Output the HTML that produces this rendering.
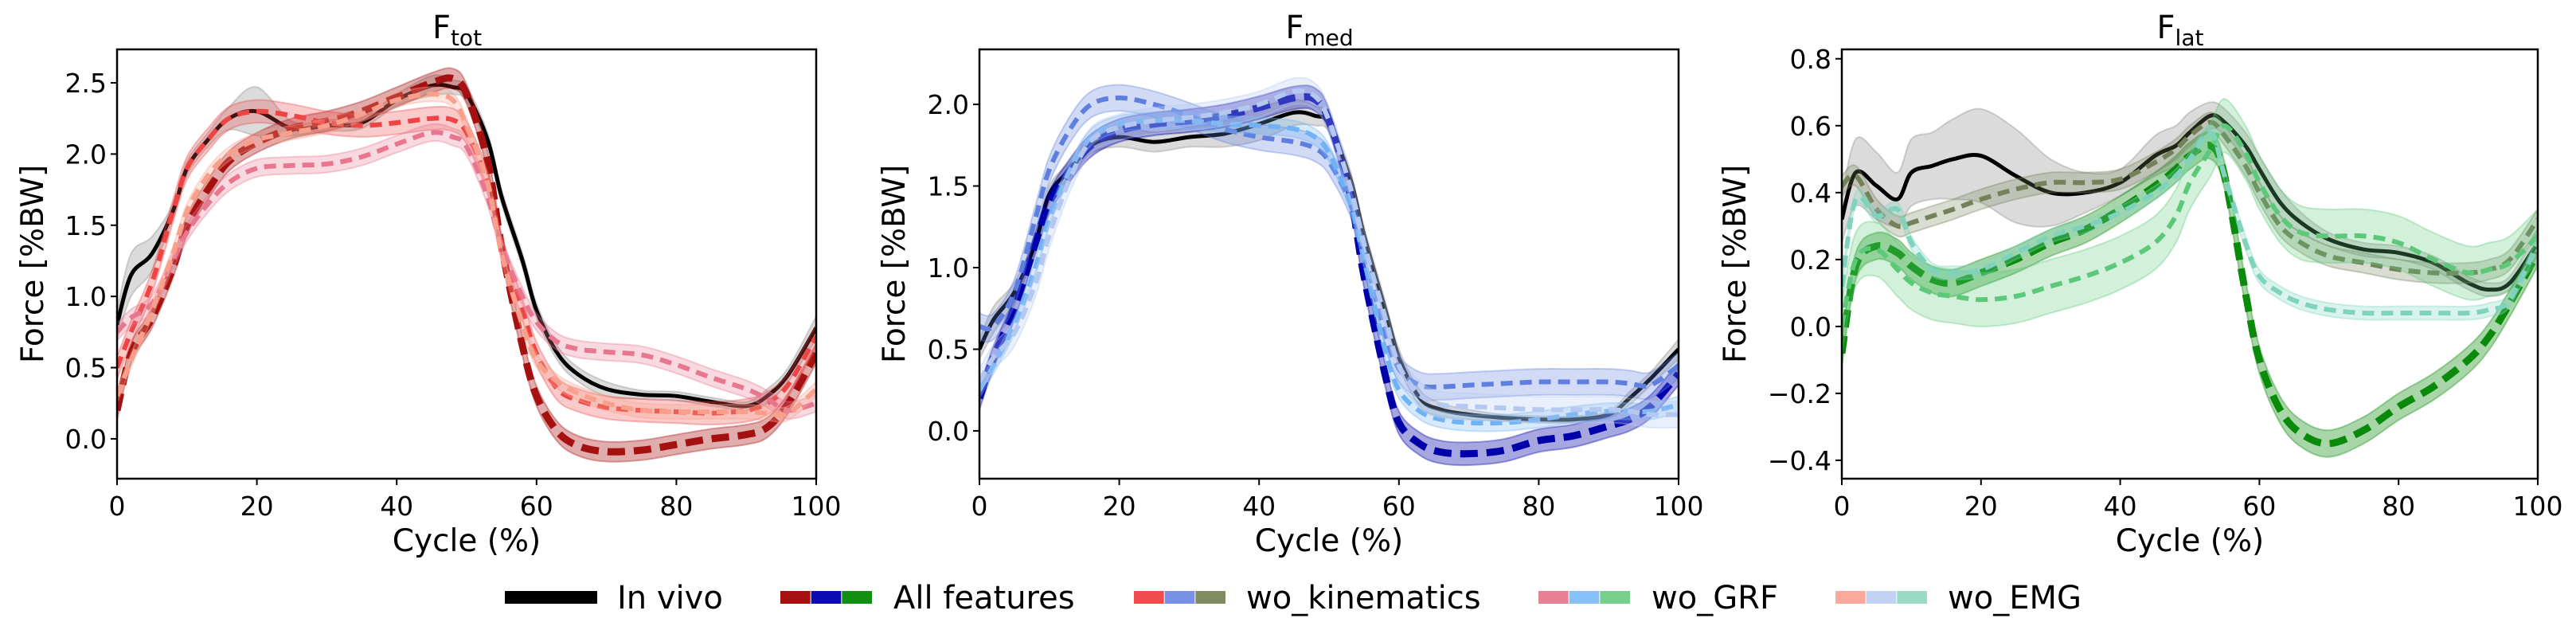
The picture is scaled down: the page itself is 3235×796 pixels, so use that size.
<!DOCTYPE html>
<html><head><meta charset="utf-8"><style>
html,body{margin:0;padding:0;background:#fff;}
svg text{font-family:"DejaVu Sans","Liberation Sans",sans-serif;fill:#000;}
</style></head><body>
<svg id="chart" xmlns="http://www.w3.org/2000/svg" width="3235" height="791" viewBox="0 0 3235 791"></svg>
<script>
const xs = [0,2,5,8,10,13,16,20,25,30,35,40,45,48,50,53,55,58,60,63,66,70,75,80,85,90,93,96,100];
const xTicks = [0,20,40,60,80,100];
const seriesNames = ["In vivo","All features","wo_kinematics","wo_GRF","wo_EMG"];
// Ftot
const totVivo = [0.8,1.15,1.3,1.6,1.9,2.1,2.25,2.3,2.18,2.2,2.22,2.38,2.48,2.47,2.42,2.1,1.7,1.25,0.9,0.6,0.45,0.35,0.31,0.3,0.26,0.23,0.3,0.45,0.78];
const totVivoBand = [0.1,0.15,0.12,0.05,0.05,0.05,0.08,0.17,0.05,0.04,0.04,0.04,0.07,0.05,0.05,0.05,0.05,0.05,0.05,0.05,0.05,0.05,0.03,0.03,0.03,0.03,0.05,0.05,0.08];
const totAll = [0.2,0.6,0.85,1.2,1.5,1.75,1.95,2.08,2.18,2.23,2.3,2.4,2.5,2.53,2.42,1.95,1.35,0.65,0.3,0.05,-0.05,-0.09,-0.08,-0.04,0,0.03,0.08,0.25,0.6];
const totKin = [0.5,0.75,1.1,1.6,1.9,2.1,2.25,2.3,2.27,2.22,2.2,2.22,2.25,2.24,2.15,1.8,1.35,0.9,0.6,0.35,0.27,0.22,0.2,0.19,0.18,0.2,0.25,0.38,0.72];
const totGrf = [0.75,0.85,0.95,1.25,1.45,1.65,1.8,1.9,1.92,1.93,1.98,2.07,2.15,2.12,2.05,1.7,1.35,1.0,0.82,0.68,0.63,0.61,0.59,0.52,0.43,0.35,0.28,0.2,0.25];
const totEmg = [0.3,0.55,0.9,1.3,1.6,1.85,2.0,2.1,2.15,2.2,2.28,2.38,2.42,2.38,2.2,1.8,1.3,0.8,0.55,0.4,0.32,0.25,0.2,0.19,0.19,0.19,0.18,0.18,0.35];
const totBands = [0.07,0.08,0.06,0.05];
const totTicks = [0,0.5,1,1.5,2,2.5];
// Fmed
const medVivo = [0.5,0.68,0.85,1.15,1.45,1.6,1.75,1.8,1.77,1.8,1.82,1.88,1.95,1.93,1.88,1.55,1.2,0.75,0.45,0.2,0.13,0.1,0.08,0.07,0.07,0.1,0.2,0.32,0.5];
const medVivoBand = [0.06,0.08,0.06,0.05,0.05,0.05,0.05,0.06,0.06,0.06,0.08,0.1,0.08,0.06,0.05,0.05,0.05,0.05,0.05,0.05,0.04,0.03,0.02,0.02,0.02,0.02,0.04,0.04,0.06];
const medAll = [0.2,0.45,0.75,1.15,1.4,1.6,1.75,1.84,1.88,1.9,1.93,1.98,2.04,2.03,1.9,1.45,0.95,0.35,0.05,-0.08,-0.13,-0.14,-0.12,-0.06,-0.03,0.03,0.07,0.15,0.35];
const medKin = [0.64,0.64,0.85,1.3,1.6,1.85,2.0,2.04,2.0,1.93,1.85,1.8,1.77,1.73,1.65,1.4,1.1,0.6,0.38,0.28,0.27,0.28,0.29,0.3,0.3,0.3,0.29,0.28,0.4];
const medGrf = [0.25,0.4,0.65,1.0,1.3,1.6,1.8,1.88,1.9,1.9,1.88,1.87,1.85,1.8,1.7,1.4,1.05,0.5,0.25,0.12,0.07,0.05,0.05,0.07,0.1,0.12,0.12,0.12,0.16];
const medEmg = [0.3,0.45,0.6,0.9,1.2,1.55,1.78,1.86,1.9,1.92,1.95,2.0,2.08,2.05,1.9,1.5,1.15,0.7,0.4,0.22,0.16,0.15,0.14,0.13,0.13,0.13,0.12,0.1,0.1];
const medBands = [0.07,0.08,0.05,0.08];
const medTicks = [0,0.5,1,1.5,2];
// Flat
const latVivo = [0.32,0.46,0.42,0.38,0.46,0.48,0.5,0.51,0.45,0.4,0.4,0.43,0.51,0.54,0.58,0.63,0.61,0.54,0.47,0.37,0.31,0.26,0.23,0.22,0.19,0.13,0.11,0.13,0.25];
const latVivoBand = [0.07,0.1,0.1,0.08,0.1,0.1,0.12,0.14,0.14,0.1,0.06,0.04,0.06,0.06,0.06,0.04,0.04,0.04,0.04,0.04,0.03,0.02,0.02,0.02,0.02,0.02,0.02,0.02,0.04];
const latAll = [-0.08,0.18,0.24,0.22,0.18,0.14,0.13,0.16,0.2,0.25,0.29,0.35,0.42,0.47,0.51,0.54,0.45,0.1,-0.1,-0.25,-0.32,-0.35,-0.31,-0.24,-0.18,-0.1,-0.03,0.07,0.22];
const latKin = [0.42,0.45,0.35,0.3,0.31,0.33,0.35,0.38,0.41,0.43,0.43,0.44,0.49,0.53,0.57,0.61,0.57,0.48,0.4,0.3,0.25,0.21,0.19,0.17,0.16,0.16,0.17,0.2,0.32];
const latGrf = [0.0,0.2,0.23,0.17,0.13,0.1,0.09,0.08,0.09,0.12,0.15,0.19,0.25,0.33,0.43,0.53,0.6,0.52,0.43,0.33,0.28,0.27,0.27,0.25,0.2,0.16,0.17,0.19,0.27];
const latEmg = [0.12,0.38,0.33,0.35,0.25,0.17,0.16,0.17,0.22,0.27,0.3,0.34,0.4,0.45,0.5,0.58,0.45,0.25,0.15,0.1,0.07,0.05,0.04,0.04,0.04,0.04,0.05,0.08,0.25];
const latBands = [0.04,0.03,0.08,0.02];
const latTicks = [-0.4,-0.2,0,0.2,0.4,0.6,0.8];

const NS="http://www.w3.org/2000/svg";
const svg=document.getElementById('chart');
function mk(tag,attrs,parent){const e=document.createElementNS(NS,tag);for(const k in attrs)e.setAttribute(k,attrs[k]);(parent||svg).appendChild(e);return e;}
function smooth(pts){let d="M"+pts[0][0].toFixed(1)+","+pts[0][1].toFixed(1);
 for(let i=0;i<pts.length-1;i++){const p0=pts[Math.max(0,i-1)],p1=pts[i],p2=pts[i+1],p3=pts[Math.min(pts.length-1,i+2)];
 const c1=[p1[0]+(p2[0]-p0[0])/6,p1[1]+(p2[1]-p0[1])/6],c2=[p2[0]-(p3[0]-p1[0])/6,p2[1]-(p3[1]-p1[1])/6];
 d+="C"+c1[0].toFixed(1)+","+c1[1].toFixed(1)+" "+c2[0].toFixed(1)+","+c2[1].toFixed(1)+" "+p2[0].toFixed(1)+","+p2[1].toFixed(1);}return d;}
function fmt(v){return (v<0?"\u2212":"")+Math.abs(v).toFixed(1);}

const panels=[
 {key:"tot",title:"F",sub:"tot",L:147,R:1025,ymin:-0.28,ymax:2.735,ticks:totTicks,vivo:totVivo,vband:totVivoBand,series:[totAll,totKin,totGrf,totEmg],bands:totBands,
  colors:["#a51111","#ee4444","#e8768f","#f9a08c"],ylx:40},
 {key:"med",title:"F",sub:"med",L:1230,R:2108,ymin:-0.293,ymax:2.337,ticks:medTicks,vivo:medVivo,vband:medVivoBand,series:[medAll,medKin,medGrf,medEmg],bands:medBands,
  colors:["#0000aa","#5f7fe0","#6fb2f5","#b4c8f0"],ylx:1122},
 {key:"lat",title:"F",sub:"lat",L:2313,R:3187,ymin:-0.455,ymax:0.828,ticks:latTicks,vivo:latVivo,vband:latVivoBand,series:[latAll,latKin,latGrf,latEmg],bands:latBands,
  colors:["#0a8a0a","#74825a","#5cc97a","#7fd3bd"],ylx:2178}
];
const T=62,B=601;
panels.forEach(p=>{
 const g=mk('g',{});
 
 
 const X=v=>p.L+(v/100)*(p.R-p.L);
 const Y=v=>B-(v-p.ymin)/(p.ymax-p.ymin)*(B-T);
 const cid='clip-'+p.key;
 const cp=mk('clipPath',{id:cid},g);mk('rect',{x:p.L,y:T,width:p.R-p.L,height:B-T},cp);
 const plot=mk('g',{'clip-path':'url(#'+cid+')'},g);
 function drawSeries(vals,bandFn,color,fillColor,lineAttrs,name,op){
  const up=vals.map((v,i)=>[X(xs[i]),Y(v+bandFn(i))]);
  const lo=vals.map((v,i)=>[X(xs[i]),Y(v-bandFn(i))]).reverse();
  const d=smooth(up)+"L"+smooth(lo).slice(1)+"Z";
  const band=mk('path',{d:d,fill:fillColor,'fill-opacity':op,stroke:fillColor,'stroke-opacity':0.35,'stroke-width':2},plot);
  
  
  const ln=mk('path',Object.assign({d:smooth(vals.map((v,i)=>[X(xs[i]),Y(v)])),fill:'none',stroke:color},lineAttrs),plot);
  
  
 }
 drawSeries(p.vivo,i=>p.vband[i],'#000','#888',{'stroke-width':5},p.key+'-in-vivo',0.3);
 const nm=['all-features','wo-kinematics','wo-grf','wo-emg'];
 p.series.forEach((s,k)=>{
  const attrs=k===0?{'stroke-width':9,'stroke-dasharray':'22,11'}:{'stroke-width':6,'stroke-dasharray':'15,9'};
  drawSeries(s,()=>p.bands[k],p.colors[k],p.colors[k],attrs,p.key+'-'+nm[k],k===0?0.35:0.28);
 });
 const frame=mk('rect',{x:p.L,y:T,width:p.R-p.L,height:B-T,fill:'none',stroke:'#000','stroke-width':2.5},g);
 
 
 xTicks.forEach(t=>{mk('line',{x1:X(t),x2:X(t),y1:B,y2:B+8,stroke:'#000','stroke-width':2},g);
  const tx=mk('text',{x:X(t),y:B+46,'font-size':33,'text-anchor':'middle'},g);tx.textContent=t;
  
  });
 p.ticks.forEach(t=>{mk('line',{x1:p.L-8,x2:p.L,y1:Y(t),y2:Y(t),stroke:'#000','stroke-width':2},g);
  const tx=mk('text',{x:p.L-13,y:Y(t)+12,'font-size':33,'text-anchor':'end'},g);tx.textContent=fmt(t);
  
  });
 const xl=mk('text',{x:(p.L+p.R)/2,y:692,'font-size':39,'text-anchor':'middle'},g);xl.textContent='Cycle (%)';
 
 
 const yl=mk('text',{x:0,y:0,'font-size':39,'text-anchor':'middle',transform:'translate('+(p.ylx+14)+','+(T+B)/2+') rotate(-90)'},g);yl.textContent='Force [%BW]';
 
 
 const tt=mk('text',{x:(p.L+p.R)/2-12,y:48,'font-size':40,'text-anchor':'middle'},g);
 
 
 tt.textContent=p.title;
 const sb=mk('tspan',{'font-size':28,dy:9},tt);sb.textContent=p.sub;
});
// legend
const legend=mk('g',{});


const legendEntries=[
 {x:634,colors:["#000"],tx:775},
 {x:980,colors:["#a51010","#0b0bb0","#108f10"],tx:1122},
 {x:1424,colors:["#ef4d4d","#7890e6","#808c60"],tx:1565},
 {x:1932,colors:["#e97f94","#88c1f7","#74d08c"],tx:2074},
 {x:2305,colors:["#fba99a","#c2d2f2","#9bdac5"],tx:2446}];
legendEntries.forEach((e,i)=>{
 const g=mk('g',{},legend);
 
 
 const w=116/e.colors.length;
 e.colors.forEach((c,k)=>mk('rect',{x:e.x+k*w,y:742,width:w-(e.colors.length>1?1:0),height:16,fill:c},g));
 const t=mk('text',{x:e.tx,y:764,'font-size':40},g);t.textContent=seriesNames[i];
});
</script>
</body></html>
